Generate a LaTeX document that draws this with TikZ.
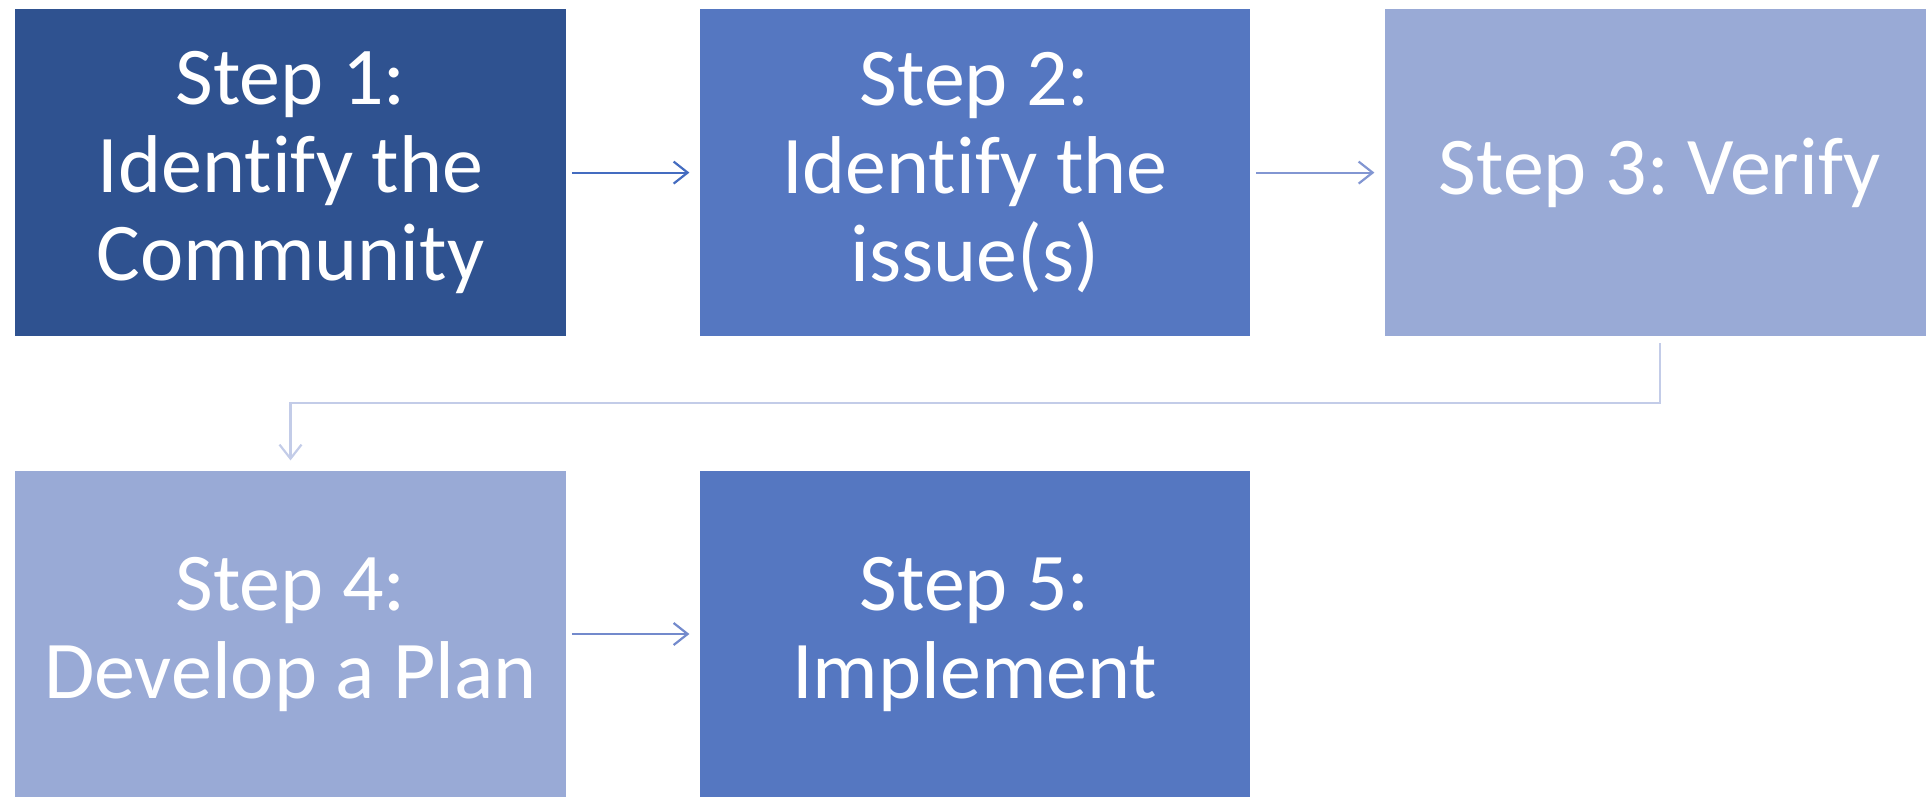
\documentclass[tikz,border=0pt]{standalone}
\usepackage{fontspec}
\setmainfont[RawFeature={-liga;-dlig;-clig}]{Carlito}
\usetikzlibrary{arrows.meta,positioning}
\definecolor{cdark}{RGB}{47,82,144}
\definecolor{cmid}{RGB}{85,119,193}
\definecolor{clight}{RGB}{153,170,214}
\definecolor{aone}{RGB}{68,108,192}
\definecolor{atwo}{RGB}{130,150,210}
\definecolor{athree}{RGB}{195,204,232}
\definecolor{afour}{RGB}{115,138,204}
\tikzset{
  stepbox/.style={draw=white, line width=1.2pt, minimum width=551.6pt, minimum height=328pt,
    inner sep=0pt, text=white, align=center, font=\fontsize{82}{88}\selectfont},
  conn/.style={line width=2.2pt, -{Straight Barb[length=14pt,width=22pt,line width=2.2pt]}}
}
\frenchspacing
\begin{document}
\begin{tikzpicture}[x=1pt,y=-1pt]
\useasboundingbox (0,0) rectangle (1926,796);
\begin{scope}
\clip (0,0) rectangle (1926,796);
\node[stepbox, fill=cdark] (b1) at (290.5,172.6) {Step 1:\\Identify the\\Community};
\node[stepbox, fill=cmid] (b2) at (974.8,172.6) {Step 2:\\Identify the\\issue(s)};
\node[stepbox, fill=clight] (b3) at (1659.8,172.6) {Step 3: Verify};
\node[stepbox, fill=clight] (b4) at (290.5,634) {Step 4:\\Develop a Plan};
\node[stepbox, fill=cmid] (b5) at (974.8,634) {Step 5:\\Implement};
\end{scope}
\draw[conn, aone, shorten <=5pt, shorten >=9pt] (b1.east) -- (b2.west);
\draw[conn, atwo, shorten <=5pt, shorten >=9pt] (b2.east) -- (b3.west);
\draw[conn, afour, shorten <=5pt, shorten >=9pt] (b4.east) -- (b5.west);
\coordinate (m) at ([yshift=-66pt]b3.south);
\draw[conn, athree, shorten <=6pt, shorten >=9pt] (b3.south) -- (m) -| (b4.north);
\end{tikzpicture}
\end{document}
